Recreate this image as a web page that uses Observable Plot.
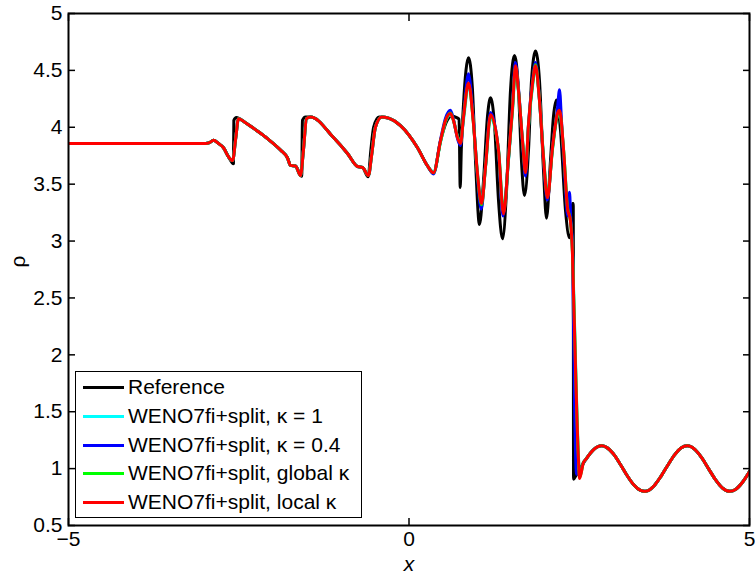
<!DOCTYPE html>
<html><head><meta charset="utf-8">
<script src="https://cdn.jsdelivr.net/npm/d3@7"></script>
<script src="https://cdn.jsdelivr.net/npm/@observablehq/plot@0.6"></script>
<style>
body{margin:0;background:#fff;}
#wrap{position:relative;width:755px;height:575px;font-family:"Liberation Sans",Arial,Helvetica,sans-serif;}
#legend{position:absolute;left:75px;top:371px;width:287px;height:147px;box-sizing:border-box;border:1px solid #000;background:#fff;padding-top:1px;}
.row{position:relative;height:28.8px;}
.sw{position:absolute;left:7px;top:13px;width:41px;height:3px;}
.lbl{position:absolute;left:52px;top:0;line-height:28.8px;font-size:21px;white-space:nowrap;color:#000;}
</style></head>
<body><div id="wrap"></div>
<script>
// Tick values
const xTicks = [-5, 0, 5];
const yTicks = [0.5, 1, 1.5, 2, 2.5, 3, 3.5, 4, 4.5, 5];

// Reference solution (black)
const refX = [-5, -3.5, -3.1, -2.988, -2.93, -2.871, -2.797, -2.724, -2.65, -2.578, -2.572, -2.535, -2.401, -2.21, -2.078, -1.887, -1.784, -1.74, -1.667, -1.575, -1.565, -1.52, -1.446, -1.109, -0.903, -0.756, -0.683, -0.60, -0.56, -0.52, -0.44, -0.30, -0.125, 0.125, 0.272, 0.36, 0.463, 0.551, 0.624, 0.70, 0.735, 0.752, 0.768, 0.80, 0.874, 0.93, 0.977, 1.035, 1.094, 1.153, 1.197, 1.256, 1.314, 1.373, 1.432, 1.49, 1.549, 1.608, 1.652, 1.696, 1.755, 1.799, 1.858, 1.916, 1.975, 2.019, 2.078, 2.122, 2.166, 2.225, 2.298, 2.357, 2.386, 2.401, 2.412, 2.416, 2.45, 2.5, 2.562];
const refY = [3.857, 3.857, 3.857, 3.857, 3.865, 3.885, 3.857, 3.82, 3.74, 3.68, 4.06, 4.085, 4.04, 3.96, 3.90, 3.80, 3.73, 3.665, 3.66, 3.57, 4.06, 4.09, 4.09, 3.91, 3.77, 3.655, 3.647, 3.565, 3.80, 4.00, 4.09, 4.08, 4.015, 3.82, 3.66, 3.60, 3.88, 4.05, 4.10, 4.085, 4.07, 3.47, 3.80, 4.20, 4.61, 4.35, 3.70, 3.145, 3.53, 4.10, 4.26, 4.02, 3.36, 3.02, 3.44, 4.32, 4.63, 4.32, 3.70, 3.40, 3.80, 4.41, 4.67, 4.41, 3.62, 3.20, 3.71, 4.10, 4.24, 3.97, 3.27, 3.03, 3.09, 3.33, 3.33, 0.907, 0.938, 0.987, 1.048];

// Part shared by the four WENO runs, x < 0.36
const preX = [-5, -3.5, -3.1, -2.988, -2.93, -2.871, -2.797, -2.724, -2.65, -2.59, -2.545, -2.504, -2.401, -2.21, -2.078, -1.887, -1.784, -1.74, -1.667, -1.593, -1.55, -1.505, -1.446, -1.109, -0.903, -0.756, -0.683, -0.595, -0.55, -0.493, -0.40, -0.30, -0.125, 0.125, 0.272];
const preY = [3.857, 3.857, 3.857, 3.857, 3.865, 3.885, 3.857, 3.82, 3.74, 3.707, 3.90, 4.076, 4.04, 3.96, 3.90, 3.80, 3.73, 3.665, 3.66, 3.576, 3.80, 4.076, 4.09, 3.91, 3.77, 3.655, 3.647, 3.576, 3.75, 4.00, 4.09, 4.08, 4.015, 3.82, 3.66];

// Oscillatory region, 0.36 <= x <= 2.56
const oscX = [0.36, 0.463, 0.536, 0.609, 0.653, 0.712, 0.756, 0.80, 0.874, 0.947, 1.006, 1.065, 1.123, 1.197, 1.314, 1.388, 1.461, 1.52, 1.564, 1.608, 1.667, 1.711, 1.755, 1.813, 1.858, 1.916, 1.975, 2.034, 2.107, 2.18, 2.21, 2.27, 2.327, 2.37, 2.40, 2.416, 2.489, 2.504, 2.562];
const cyanY = [3.61, 3.87, 4.05, 4.11, 4.06, 3.92, 3.87, 4.06, 4.36, 4.04, 3.60, 3.35, 3.64, 4.08, 3.81, 3.27, 3.71, 4.14, 4.50, 4.31, 3.89, 3.63, 4.01, 4.35, 4.52, 4.24, 3.75, 3.41, 3.80, 4.10, 4.12, 3.80, 3.31, 3.19, 2.92, 2.60, 1.10, 0.93, 1.054];
const greenY = [3.60, 3.875, 4.055, 4.125, 4.06, 3.915, 3.86, 4.09, 4.38, 4.03, 3.58, 3.32, 3.65, 4.10, 3.80, 3.25, 3.72, 4.16, 4.53, 4.32, 3.88, 3.61, 4.02, 4.37, 4.55, 4.235, 3.74, 3.39, 3.81, 4.11, 4.14, 3.80, 3.30, 3.18, 2.90, 2.57, 1.08, 0.92, 1.054];
const redY = [3.60, 3.883, 4.06, 4.12, 4.06, 3.91, 3.857, 4.085, 4.39, 4.03, 3.59, 3.33, 3.65, 4.11, 3.80, 3.24, 3.73, 4.17, 4.54, 4.32, 3.88, 3.60, 4.03, 4.38, 4.54, 4.235, 3.73, 3.38, 3.82, 4.12, 4.15, 3.80, 3.29, 3.18, 2.89, 2.54, 1.07, 0.913, 1.054];
const blueX = [0.36, 0.463, 0.536, 0.609, 0.653, 0.712, 0.756, 0.80, 0.874, 0.947, 1.006, 1.06, 1.123, 1.197, 1.314, 1.38, 1.461, 1.52, 1.56, 1.608, 1.667, 1.711, 1.755, 1.813, 1.858, 1.916, 1.975, 2.03, 2.107, 2.18, 2.21, 2.24, 2.29, 2.33, 2.357, 2.375, 2.40, 2.43, 2.46, 2.50, 2.562];
const blueY = [3.59, 3.89, 4.08, 4.15, 4.07, 3.90, 3.84, 4.10, 4.47, 4.05, 3.56, 3.28, 3.66, 4.13, 3.79, 3.22, 3.72, 4.19, 4.57, 4.34, 3.86, 3.57, 4.03, 4.40, 4.57, 4.24, 3.72, 3.36, 3.83, 4.16, 4.33, 4.05, 3.55, 3.22, 3.43, 3.20, 2.95, 1.60, 0.95, 0.96, 1.054];

// Undisturbed region ahead of the shock, shared by all curves
const sineX = [2.6, 2.7, 2.83, 2.9, 3.0, 3.1, 3.2, 3.3, 3.4, 3.455, 3.5, 3.6, 3.7, 3.8, 3.9, 4.0, 4.085, 4.2, 4.3, 4.4, 4.5, 4.6, 4.71, 4.8, 4.9, 5.0];
const sineY = [1.084, 1.161, 1.200, 1.187, 1.130, 1.041, 0.942, 0.858, 0.808, 0.800, 0.804, 0.850, 0.932, 1.030, 1.121, 1.183, 1.200, 1.167, 1.094, 0.998, 0.903, 0.831, 0.800, 0.819, 0.882, 0.974];

const names = ["Reference", "WENO7fi+split, \u03ba = 1", "WENO7fi+split, \u03ba = 0.4", "WENO7fi+split, global \u03ba", "WENO7fi+split, local \u03ba"];
const colors = ["#000000", "#00ffff", "#0000ff", "#00ff00", "#ff0000"];

const zip = (xs, ys) => xs.slice(0, Math.min(xs.length, ys.length)).map((x, i) => ({x, y: ys[i]}));
const seriesData = [
  [...zip(refX, refY), ...zip(sineX, sineY)],
  [...zip(preX, preY), ...zip(oscX, cyanY), ...zip(sineX, sineY)],
  [...zip(preX, preY), ...zip(blueX, blueY), ...zip(sineX, sineY)],
  [...zip(preX, preY), ...zip(oscX, greenY), ...zip(sineX, sineY)],
  [...zip(preX, preY), ...zip(oscX, redY), ...zip(sineX, sineY)]
];

const fmt = d => d < 0 ? "\u2212" + (-d) : String(d);
const font = "'Liberation Sans', Arial, Helvetica, sans-serif";

const chart = Plot.plot({
  width: 755, height: 575,
  marginLeft: 68, marginRight: 6, marginTop: 13, marginBottom: 50,
  style: {fontFamily: font, fontSize: "21px", background: "white", overflow: "visible", color: "black"},
  x: {domain: [-5, 5]},
  y: {domain: [0.5, 5]},
  marks: [
    ...seriesData.map((d, i) => Plot.line(d, {x: "x", y: "y", stroke: colors[i], strokeWidth: 3, curve: "monotone-x", clip: true})),
    Plot.frame({stroke: "black", strokeWidth: 2}),
    Plot.axisY({anchor: "left", ticks: yTicks, tickSize: -7, strokeWidth: 1.5, tickFormat: () => "", label: null}),
    Plot.axisY({anchor: "right", ticks: yTicks, tickSize: -7, strokeWidth: 1.5, tickFormat: () => "", label: null}),
    Plot.axisX({anchor: "bottom", ticks: xTicks, tickSize: -7, strokeWidth: 1.5, tickFormat: () => "", label: null}),
    Plot.axisX({anchor: "top", ticks: xTicks, tickSize: -7, strokeWidth: 1.5, tickFormat: () => "", label: null}),
    Plot.axisY({anchor: "left", ticks: yTicks, tickSize: 0, tickPadding: 6, tickFormat: fmt, label: null, fontSize: 21}),
    Plot.axisX({anchor: "bottom", ticks: xTicks, tickSize: 0, tickPadding: 6, tickFormat: fmt, label: null, fontSize: 21}),
    Plot.text(["x"], {text: d => d, frameAnchor: "bottom", dy: 45, fontStyle: "italic", fontSize: 21}),
    Plot.text(["\u03c1"], {text: d => d, frameAnchor: "left", dx: -50, dy: -2, rotate: -90, fontSize: 21})
  ]
});

const wrap = document.getElementById("wrap");
wrap.appendChild(chart);

const legend = document.createElement("div");
legend.id = "legend";
names.forEach((n, i) => {
  const row = document.createElement("div");
  row.className = "row";
  const sw = document.createElement("div");
  sw.className = "sw";
  sw.style.background = colors[i];
  const lb = document.createElement("div");
  lb.className = "lbl";
  lb.textContent = n;
  row.appendChild(sw); row.appendChild(lb);
  legend.appendChild(row);
});
wrap.appendChild(legend);
</script>
</body></html>
